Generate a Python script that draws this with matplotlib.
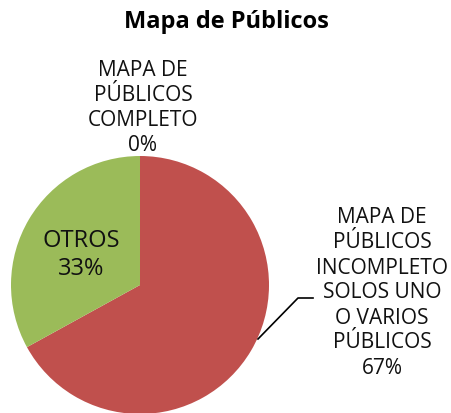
import matplotlib
matplotlib.use("Agg")
import matplotlib.pyplot as plt

labels = ["MAPA DE\nPÚBLICOS\nCOMPLETO", "MAPA DE\nPÚBLICOS\nINCOMPLETO\nSOLOS UNO\nO VARIOS\nPÚBLICOS", "OTROS"]
values = [0, 67, 33]
colors = ["#4F81BD", "#C0504D", "#9BBB59"]

W, H = 452, 414
plt.rcParams["font.family"] = ["Open Sans", "DejaVu Sans"]

fig = plt.figure(figsize=(W / 100, H / 100), dpi=100)
ax = fig.add_axes([0, 0, 1, 1])

# pie laid out in pixel units, y counted from the bottom
cx, cy, r = 140, H - 286, 129
ax.pie(values, colors=colors, startangle=90, counterclock=False,
       center=(cx, cy), radius=r, frame=True)
ax.set_xlim(0, W)
ax.set_ylim(0, H)
ax.set_aspect("equal")
ax.axis("off")

pct = [f"{v}%" for v in values]
kw = dict(ha="center", va="center", fontsize=15, linespacing=1.25, color="#111111")
ax.text(143, H - 108, f"{labels[0]}\n{pct[0]}", **kw)
ax.text(382, H - 293, f"{labels[1]}\n{pct[1]}", **kw)
ax.text(81, H - 255, f"{labels[2]}\n{pct[2]}", ha="center", va="center",
        fontsize=17, linespacing=1.25, color="#111111")

# leader line for the big slice
ax.plot([258, 298, 313], [H - 340, H - 299, H - 299], color="black", lw=1.2)

fig.text(0.5, 1 - 22 / H, "Mapa de Públicos", ha="center", va="center",
         fontsize=17, fontweight="bold")

fig.savefig("out.png", dpi=100)
